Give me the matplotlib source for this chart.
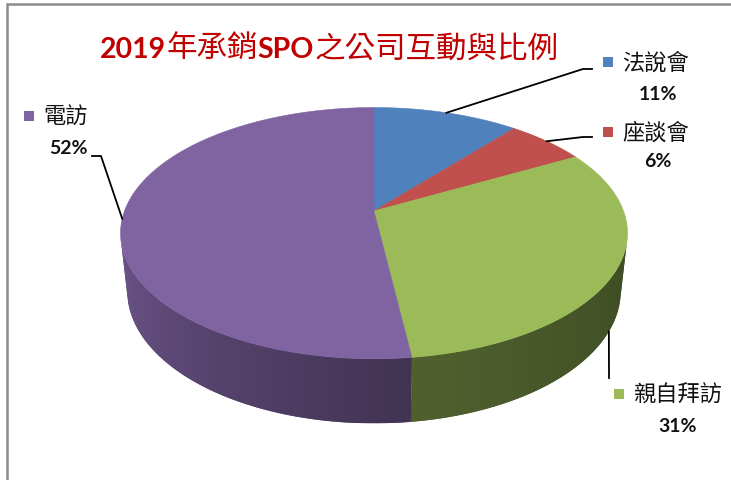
import numpy as np
import matplotlib
matplotlib.use('Agg')
import matplotlib.pyplot as plt
from matplotlib.patches import Polygon, Rectangle
from matplotlib.colors import to_rgb

# ---- data ----
labels = ['法說會', '座談會', '親自拜訪', '電訪']
shares = [11, 6, 31, 52]
colors = ['#4f81bd', '#c0504d', '#9bbb59', '#8064a2']
title_parts = ['2019', '年承銷', 'SPO', '之公司互動與比例']

CJK = 'Noto Sans CJK TC'
LATIN = 'Lato'

# ---- 3D pie geometry (pixel space) ----
CX, CY = 374, 212          # projected pie centre
F = 1235.0                 # focal length
D = 4.95                   # camera distance
ELEV = np.radians(29.2)
S, C = np.sin(ELEV), np.cos(ELEV)
H = 0.27                   # pie thickness


def proj(theta, z=0.0):
    """theta in degrees, clockwise from the far side (12 o'clock)"""
    t = np.radians(theta)
    u, v = np.sin(t), np.cos(t)
    up = v * S + z * C
    depth = D + v * C - z * S
    return CX + u * F / depth, CY - up * F / depth


def shade(theta):
    # wall gets darker toward the right
    return np.interp(theta, [103, 175, 257], [0.40, 0.52, 0.85])


fig = plt.figure(figsize=(7.31, 4.81), dpi=100)
fig.patch.set_facecolor('white')
ax = fig.add_axes([0, 0, 1, 1])
ax.axis('off')

# frame lines (top + left)
ax.plot([7, 7, 731], [481, 4.5, 4.5], color='#8c8c8c', lw=1.8,
        solid_joinstyle='miter')

bounds = np.concatenate([[0], np.cumsum(shares)]) / sum(shares) * 360
vis_lo = np.degrees(np.arccos(-1 / (D * C)))
vis_hi = 360 - vis_lo

# side walls: one polygon per slice filled with a horizontal gradient
for i, col in enumerate(colors):
    a0, a1 = max(bounds[i], vis_lo), min(bounds[i + 1], vis_hi)
    if a1 <= a0:
        continue
    arc = np.linspace(a0, a1, 200)
    top = [proj(t) for t in arc]
    bot = [proj(t, -H) for t in arc[::-1]]
    base = np.array(to_rgb(col))
    poly = Polygon(top + bot, closed=True,
                   facecolor=base * shade(arc.mean()), edgecolor='none')
    ax.add_patch(poly)

    xs_top = np.array([p[0] for p in top])
    order = np.argsort(xs_top)
    x0, x1 = xs_top.min(), xs_top.max()
    ys = [p[1] for p in top + bot]
    cols_x = np.linspace(x0, x1, 300)
    th = np.interp(cols_x, xs_top[order], arc[order])
    img = (base[None, :] * shade(th)[:, None])[None, :, :]
    im = ax.imshow(img, extent=(x0, x1, max(ys), min(ys)), aspect='auto',
                   interpolation='bilinear', zorder=poly.get_zorder())
    im.set_clip_path(poly)

# top faces
for i, col in enumerate(colors):
    arc = np.linspace(bounds[i], bounds[i + 1], 200)
    pts = [(CX, CY)] + [proj(t) for t in arc]
    ax.add_patch(Polygon(pts, closed=True, facecolor=col, edgecolor=col,
                         lw=0.4, zorder=2))

# leader lines
mid = (bounds[:-1] + bounds[1:]) / 2
leaders = [
    [proj(mid[0]), (583, 70), (592, 70)],
    [proj(mid[1]), (583, 138), (592, 138)],
    [proj(mid[2], -H), (609, 379)],
    [proj(mid[3]), (101, 157), (92, 157)],
]
for pts in leaders:
    xs, ys = zip(*pts)
    ax.plot(xs, ys, color='black', lw=1.3, zorder=3)

# data labels: square key + name + percentage
label_pos = [
    (608, 63, 658, 94),
    (608, 133, 658, 162),
    (619, 395, 678, 427),
    (29, 117, 68, 149),
]
for lab, val, col, (sx, sy, px, py) in zip(labels, shares, colors, label_pos):
    ax.add_patch(Rectangle((sx - 5, sy - 5), 10, 10, facecolor=col,
                           edgecolor='none'))
    ax.text(sx + 14, sy, lab, fontsize=16, family=CJK, color='#111111',
            ha='left', va='center')
    ax.text(px, py, f'{val}%', fontsize=14, family=LATIN, fontweight='bold',
            color='#111111', ha='center', va='center')

ax.set_xlim(0, 731)
ax.set_ylim(481, 0)

# title, laid out piece by piece (bold latin, regular CJK)
renderer = fig.canvas.get_renderer()
x = 100
for part in title_parts:
    latin = part.isascii()
    t = ax.text(x, 58, part, color='#c00000', va='baseline', ha='left',
                fontsize=20.5 if latin else 22,
                family=LATIN if latin else CJK,
                fontweight='bold' if latin else 'normal')
    x += t.get_window_extent(renderer).width

fig.savefig('out.png', dpi=100)
